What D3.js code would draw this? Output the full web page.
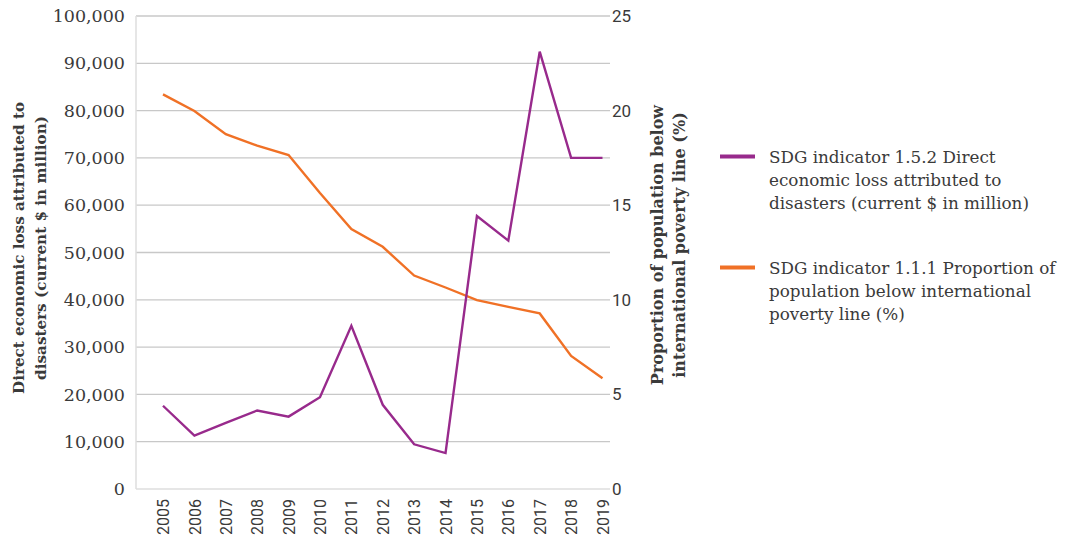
<!DOCTYPE html>
<html><head><meta charset="utf-8">
<script src="https://cdn.jsdelivr.net/npm/d3@7/dist/d3.min.js"></script>
<style>
body{margin:0;background:#fff;}
svg{display:block;}
</style></head>
<body><svg id="c" width="1071" height="540"></svg>
<script>
const years = [2005,2006,2007,2008,2009,2010,2011,2012,2013,2014,2015,2016,2017,2018,2019];
const lossValues = [17600,11300,14000,16600,15300,19400,34500,17800,9450,7600,57700,52500,92450,70000,70000];
const povertyValues = [20.86,19.98,18.75,18.15,17.65,15.64,13.74,12.8,11.28,10.65,9.98,9.63,9.28,7.03,5.85];
const leftTicks = [0,10000,20000,30000,40000,50000,60000,70000,80000,90000,100000];
const rightTicks = [0,5,10,15,20,25];
const seriesNames = [
  ["SDG indicator 1.5.2 Direct","economic loss attributed to","disasters (current $ in million)"],
  ["SDG indicator 1.1.1 Proportion of","population below international","poverty line (%)"]
];
const leftTitle = ["Direct economic loss attributed to","disasters (current $ in million)"];
const rightTitle = ["Proportion of population below","international poverty line (%)"];
const colors = ["#982a8c","#f07126"];

(function(){
const svg = d3.select("#c");
const serif = "'DejaVu Serif', serif";
const sans = "Roboto, 'Liberation Sans', sans-serif";
const pTop = 16, pBottom = 489, pLeft = 136, pRight = 610;

const x = d3.scalePoint().domain(years).range([163, 602.5]);
const yL = d3.scaleLinear().domain([0,100000]).range([pBottom, pTop]);
const yR = d3.scaleLinear().domain([0,25]).range([pBottom, pTop]);

svg.append("g").selectAll("line").data(leftTicks.filter(d=>d>0)).join("line")
  .attr("x1", pLeft).attr("x2", pRight)
  .attr("y1", d=>yL(d)).attr("y2", d=>yL(d))
  .attr("stroke","#c8c8c8").attr("stroke-width",1.3);
svg.append("line").attr("x1",pLeft).attr("x2",pLeft).attr("y1",pTop).attr("y2",pBottom)
  .attr("stroke","#dedede").attr("stroke-width",1.5);
svg.append("line").attr("x1",pLeft).attr("x2",pRight).attr("y1",pBottom).attr("y2",pBottom)
  .attr("stroke","#dedede").attr("stroke-width",1.5);

const fmt = d3.format(",");
const gL = svg.append("g").attr("transform",`translate(${pLeft},0)`)
  .call(d3.axisLeft(yL).tickValues(leftTicks).tickFormat(fmt).tickSize(0).tickPadding(11));
gL.select(".domain").remove();
gL.selectAll("text").attr("font-family",serif).attr("font-size",17.5).attr("fill","#3a3a3a");

const gR = svg.append("g").attr("transform",`translate(${pRight},0)`)
  .call(d3.axisRight(yR).tickValues(rightTicks).tickSize(0).tickPadding(2));
gR.select(".domain").remove();
gR.selectAll("text").attr("font-family",sans).attr("font-size",17).attr("fill","#3a3a3a");

const gX = svg.append("g").attr("transform",`translate(0,${pBottom})`)
  .call(d3.axisBottom(x).tickSize(0));
gX.select(".domain").remove();
gX.selectAll("text").attr("font-family",sans).attr("font-size",16).attr("fill","#3a3a3a")
  .attr("transform","rotate(-90)").attr("text-anchor","end")
  .attr("x",-10).attr("y",0).attr("dy","0.35em");

const lineL = d3.line().x((d,i)=>x(years[i])).y(d=>yL(d));
const lineR = d3.line().x((d,i)=>x(years[i])).y(d=>yR(d));
svg.append("path").datum(povertyValues).attr("d",lineR).attr("fill","none")
  .attr("stroke",colors[1]).attr("stroke-width",2.4).attr("stroke-linejoin","miter");
svg.append("path").datum(lossValues).attr("d",lineL).attr("fill","none")
  .attr("stroke",colors[0]).attr("stroke-width",2.4).attr("stroke-linejoin","miter");

const tL = svg.append("text").attr("transform","translate(24,248) rotate(-90)")
  .attr("text-anchor","middle").attr("font-family",serif).attr("font-weight","bold")
  .attr("font-size",15.2).attr("fill","#3a3a3a");
leftTitle.forEach((s,i)=>tL.append("tspan").attr("x",0).attr("y",i*22).text(s));
const tR = svg.append("text").attr("transform","translate(663,245) rotate(-90)")
  .attr("text-anchor","middle").attr("font-family",serif).attr("font-weight","bold")
  .attr("font-size",16).attr("fill","#3a3a3a");
rightTitle.forEach((s,i)=>tR.append("tspan").attr("x",0).attr("y",i*22).text(s));

const legY = [156.5, 267.5];
seriesNames.forEach((lines,k)=>{
  svg.append("line").attr("x1",720).attr("x2",755).attr("y1",legY[k]).attr("y2",legY[k])
    .attr("stroke",colors[k]).attr("stroke-width",4);
  const t = svg.append("text").attr("font-family",serif).attr("font-size",16.8).attr("fill","#3a3a3a");
  lines.forEach((s,i)=>t.append("tspan").attr("x",769).attr("y",legY[k]+6+i*23).text(s));
});
})();
</script></body></html>
